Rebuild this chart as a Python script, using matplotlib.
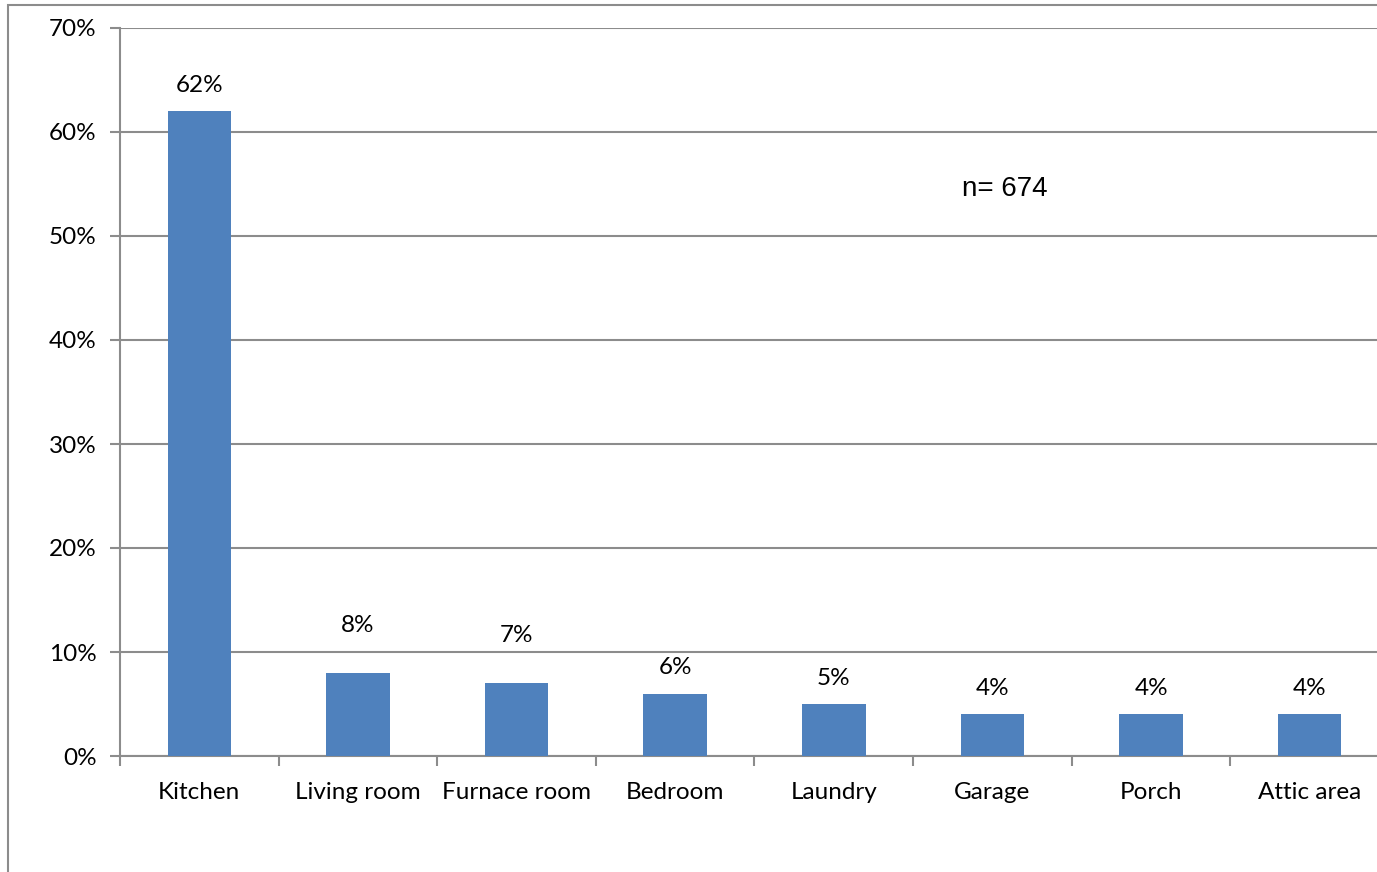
import matplotlib.pyplot as plt
from matplotlib.patches import Rectangle
from matplotlib.ticker import FuncFormatter, MultipleLocator

rooms = ["Kitchen", "Living room", "Furnace room", "Bedroom", "Laundry",
         "Garage", "Porch", "Attic area"]
shares = [62, 8, 7, 6, 5, 4, 4, 4]
n_label = "n= 674"

plt.rcParams['font.family'] = ['Lato', 'DejaVu Sans']
FS = 17.5

fig = plt.figure(figsize=(13.77, 8.72), dpi=100)
ax = fig.add_axes([120 / 1377, 1 - 756 / 872, 1269 / 1377, (756 - 28) / 872])

# outer chart frame (cut off at right and bottom)
fig.patches.append(Rectangle((8 / 1377, -0.1), 1.2, 1 - 5 / 872 + 0.1,
                             transform=fig.transFigure, fill=False,
                             edgecolor="#8c8c8c", linewidth=1.5))

x = range(len(rooms))
ax.bar(x, shares, width=0.4, color="#4f81bd", zorder=3)
for i, v in zip(x, shares):
    # excel pushed the 8% and 7% labels up a bit
    off = 34 if i in (1, 2) else 18.5
    ax.annotate(f"{v}%", (i, v), xytext=(0, off), textcoords="offset points",
                ha="center", va="center", fontsize=FS)

ax.set_xlim(-0.5, len(rooms) - 0.5)
ax.set_ylim(0, 70)
ax.yaxis.set_major_locator(MultipleLocator(10))
ax.yaxis.set_major_formatter(FuncFormatter(lambda v, p: f"{v:.0f}%"))
ax.grid(axis="y", color="#8c8c8c", linewidth=1.5, zorder=0)

ax.set_xticks(list(x))
ax.set_xticklabels(rooms, fontsize=FS)
ax.set_xticks([i - 0.5 for i in range(len(rooms) + 1)], minor=True)
ax.tick_params(axis="x", which="major", length=0, pad=18.5)
ax.tick_params(axis="x", which="minor", length=7, color="#8c8c8c", width=1.5)
ax.tick_params(axis="y", labelsize=FS, length=7, color="#8c8c8c", width=1.5, pad=10)

for s in ["top", "right"]:
    ax.spines[s].set_visible(False)
for s in ["left", "bottom"]:
    ax.spines[s].set_color("#8c8c8c")
    ax.spines[s].set_linewidth(1.5)

ax.text(5.08, 54.5, n_label, fontsize=20, family=["Liberation Sans"], ha="center", va="center")

fig.savefig("out.png", dpi=100)
